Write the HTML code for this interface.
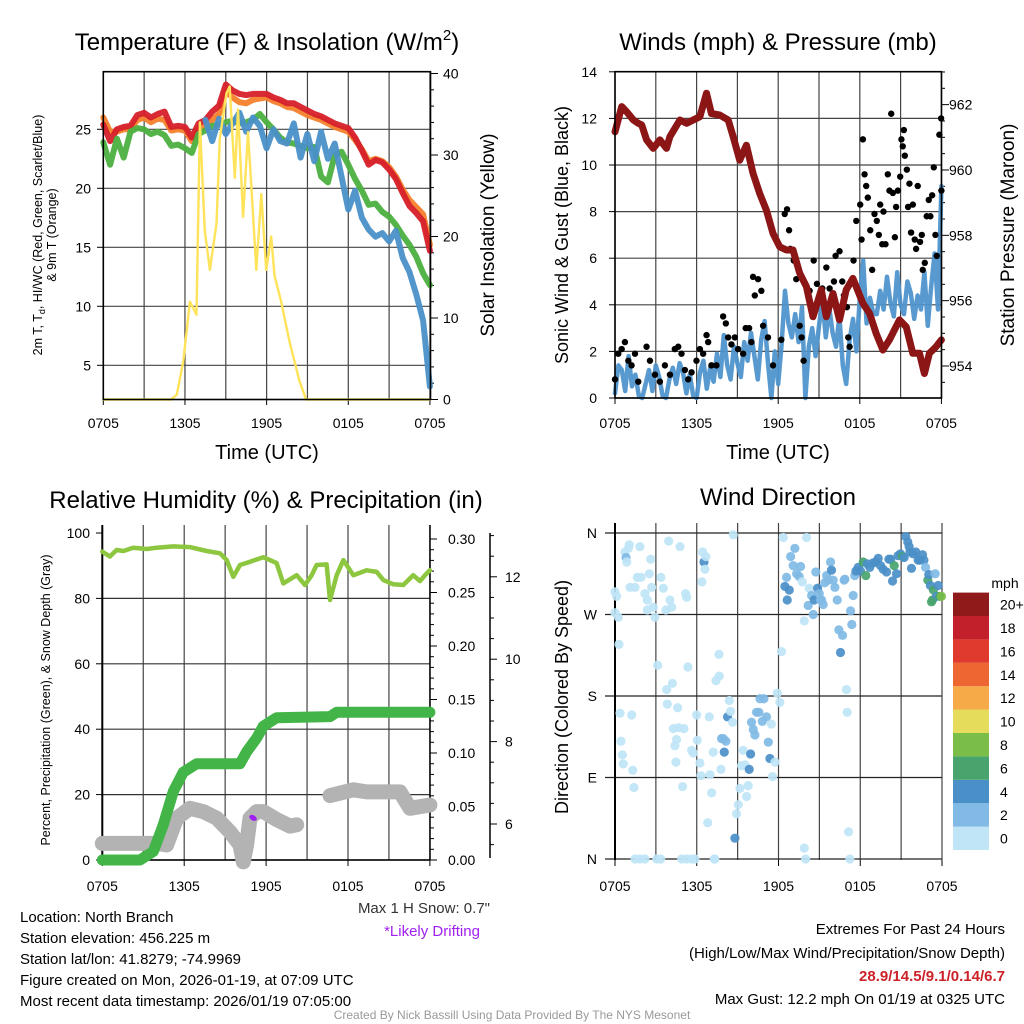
<!DOCTYPE html>
<html><head><meta charset="utf-8"><style>
html,body{margin:0;padding:0;background:#fff;}
svg{display:block;font-family:"Liberation Sans",sans-serif;}
</style></head><body>
<svg id="fig" width="1024" height="1024" viewBox="0 0 1024 1024" xmlns="http://www.w3.org/2000/svg">
<rect width="1024" height="1024" fill="#fff"/>
<g id="layer"></g>
<g id="texts" fill="#000">
<text x="267" y="50" font-size="24" text-anchor="middle">Temperature (F) &amp; Insolation (W/m<tspan font-size="15" dy="-10">2</tspan><tspan dy="10">)</tspan></text>
<text x="778" y="50" font-size="24" text-anchor="middle">Winds (mph) &amp; Pressure (mb)</text>
<text x="266" y="508" font-size="24" text-anchor="middle">Relative Humidity (%) &amp; Precipitation (in)</text>
<text x="778" y="505" font-size="24" text-anchor="middle">Wind Direction</text>
<text x="267" y="459" font-size="20" text-anchor="middle">Time (UTC)</text>
<text x="778" y="459" font-size="20" text-anchor="middle">Time (UTC)</text>
<text transform="translate(42,235) rotate(-90)" font-size="12.5" text-anchor="middle">2m T, T<tspan font-size="9" dy="3">d</tspan><tspan dy="-3">, HI/WC (Red, Green, Scarlet/Blue)</tspan></text>
<text transform="translate(56,235) rotate(-90)" font-size="12.5" text-anchor="middle">&amp; 9m T (Orange)</text>
<text transform="translate(494,235) rotate(-90)" font-size="19" text-anchor="middle">Solar Insolation (Yellow)</text>
<text transform="translate(568,235) rotate(-90)" font-size="18" text-anchor="middle">Sonic Wind &amp; Gust (Blue, Black)</text>
<text transform="translate(1014,235) rotate(-90)" font-size="19" text-anchor="middle">Station Pressure (Maroon)</text>
<text transform="translate(50,700) rotate(-90)" font-size="12.5" text-anchor="middle">Percent, Precipitation (Green), &amp; Snow Depth (Gray)</text>
<text transform="translate(568,697) rotate(-90)" font-size="18" text-anchor="middle">Direction (Colored By Speed)</text>
<text x="490" y="913" font-size="15" text-anchor="end" fill="#333">Max 1 H Snow: 0.7"</text>
<text x="432" y="936" font-size="15" text-anchor="middle" fill="#a020f0">*Likely Drifting</text>
<g font-size="15">
<text x="20" y="922">Location: North Branch</text>
<text x="20" y="943">Station elevation: 456.225 m</text>
<text x="20" y="964">Station lat/lon: 41.8279; -74.9969</text>
<text x="20" y="985">Figure created on Mon, 2026-01-19, at 07:09 UTC</text>
<text x="20" y="1006">Most recent data timestamp: 2026/01/19 07:05:00</text>
</g>
<g font-size="15" text-anchor="end">
<text x="1005" y="934">Extremes For Past 24 Hours</text>
<text x="1005" y="958">(High/Low/Max Wind/Precipitation/Snow Depth)</text>
<text x="1005" y="981" fill="#cc2229" font-weight="bold">28.9/14.5/9.1/0.14/6.7</text>
<text x="1005" y="1004">Max Gust: 12.2 mph On 01/19 at 0325 UTC</text>
</g>
<text x="512" y="1019" font-size="12" text-anchor="middle" fill="#999">Created By Nick Bassill Using Data Provided By The NYS Mesonet</text>
<text x="1005" y="588" font-size="14" text-anchor="middle">mph</text>
</g>
</svg>
<script>
// ---------- data ----------
const xTickLabels = ["0705","1305","1905","0105","0705"];
const tempTicks = [5,10,15,20,25];
const solarTicks = [0,10,20,30,40];
const windTicks = [0,2,4,6,8,10,12,14];
const pressTicks = [954,956,958,960,962];
const rhTicks = [0,20,40,60,80,100];
const precipTicks = ["0.00","0.05","0.10","0.15","0.20","0.25","0.30"];
const snowTicks = [6,8,10,12];
const dirTicks = [0,90,180,270,360];
const dirTickLabels = ["N","E","S","W","N"];
// temperature series, every 0.5 h
const tempRed = [25.4,24.0,25.0,25.2,25.3,26.2,26.4,26.0,26.3,26.5,25.2,25.3,25.2,24.3,25.5,25.8,26.5,27.0,28.8,28.3,28.0,27.9,28.0,28.0,28.0,27.7,27.5,27.2,27.2,26.9,26.6,26.3,26.1,25.8,25.5,25.3,25.1,24.3,23.2,22.0,22.4,22.2,21.6,20.8,19.6,18.5,17.9,17.2,14.7];
const tempOrange = [26.0,24.8,24.8,25.0,25.0,25.8,26.0,25.6,25.9,25.8,24.9,25.0,24.9,24.0,25.0,25.3,25.8,26.3,28.2,27.7,27.3,27.2,27.5,27.6,27.7,27.4,27.2,26.9,26.8,26.5,26.2,26.0,25.8,25.5,25.2,25.0,24.8,24.1,23.3,22.3,22.5,22.3,21.8,21.0,19.9,19.0,18.4,17.8,15.2];
const tempGreen = [23.9,22.0,24.2,22.6,24.8,25.1,25.0,24.6,24.8,24.5,23.6,23.7,23.4,23.0,24.6,24.9,25.3,25.4,25.6,25.7,25.5,25.6,25.8,26.3,25.6,25.0,24.3,23.9,23.8,23.6,23.4,23.5,21.0,20.5,22.8,23.1,22.0,20.8,19.8,18.6,18.7,18.0,17.6,16.9,16.0,15.2,14.2,12.8,11.8];
const tempBlue = [null,null,null,null,null,null,null,null,null,null,null,null,null,null,null,25.8,24.0,25.9,24.6,25.5,26.4,24.8,26.0,25.3,23.4,25.0,24.0,23.8,25.5,22.6,24.6,22.3,24.8,22.5,23.8,21.0,18.2,19.8,17.5,16.5,15.9,16.2,15.5,16.4,14.1,12.9,11.0,8.8,3.2];
const solarHours = [0,5.0,5.4,5.88,6.36,6.85,7.1,7.46,7.83,8.32,8.56,9.05,9.29,9.66,9.9,10.27,10.63,11.0,11.24,11.61,11.97,12.34,12.58,13.07,13.68,14.41,14.9,24];
const solarValues = [0,0,0.6,4.7,12,10.4,34,20.7,15.9,21.6,32,37.6,38.4,27.2,35.6,22.4,32.8,22.8,15.9,25.2,15.9,20,15.2,12,7.1,2.3,0,0];
// wind, every 0.25 h
const windSpeed = [0.2,1.4,1.2,0.3,1.8,0.5,1.0,0.1,0.0,0.6,1.2,0.3,1.4,0.9,0.1,0.0,0.8,1.3,0.6,1.5,1.1,0.2,1.0,0.1,0.0,1.1,1.6,0.4,1.3,0.7,1.9,0.9,2.7,1.4,0.8,2.2,1.5,0.9,2.4,1.6,2.8,1.8,0.8,2.5,3.3,1.5,0.0,2.0,0.6,2.3,4.6,3.2,2.6,3.6,2.4,3.9,0.0,2.2,3.0,1.8,3.1,4.2,2.6,3.9,2.8,2.2,3.5,1.4,0.6,2.5,3.4,2.0,4.3,5.9,3.2,4.3,3.6,3.6,4.6,3.8,5.2,4.1,3.5,5.4,4.0,3.6,5.0,4.5,3.4,4.4,3.8,5.4,3.1,4.8,6.2,3.8,9.1];
const gustHours = [0.0,0.24,0.49,0.73,0.98,1.22,1.47,1.71,2.32,2.57,2.94,3.30,3.67,4.04,4.40,4.65,4.89,5.14,5.38,5.63,5.99,6.24,6.48,6.73,6.85,7.09,7.46,7.95,8.15,8.32,8.56,8.81,9.05,9.42,9.61,9.86,10.03,10.15,10.28,10.52,10.76,10.89,11.25,11.62,12.23,12.48,12.65,12.80,12.89,13.14,13.33,13.58,13.72,13.87,14.31,14.61,14.85,15.24,15.54,15.78,16.10,16.22,16.51,16.71,16.83,17.05,17.15,17.25,17.44,17.54,17.74,18.03,18.13,18.23,18.35,18.47,18.59,18.77,18.91,19.08,19.25,19.40,19.50,19.65,19.74,19.89,20.06,20.18,20.31,20.43,20.58,20.67,20.80,20.97,21.06,21.16,21.24,21.31,21.46,21.55,21.65,21.77,21.90,22.04,22.14,22.26,22.43,22.56,22.63,22.78,22.92,23.07,23.19,23.32,23.44,23.56,23.66,23.85,23.98,24.0];
const gustValues = [0.8,1.9,2.1,2.4,1.6,1.4,1.9,0.7,2.2,1.6,1.0,0.7,1.4,1.0,2.1,2.2,1.9,1.2,0.8,1.1,1.6,2.1,1.9,2.7,2.4,1.4,1.4,3.5,3.2,2.6,2.3,2.6,2.1,1.9,3.0,3.0,2.4,5.2,4.4,5.1,4.6,3.1,2.6,1.4,2.5,7.9,8.1,7.2,6.4,5.9,5.1,3.1,2.6,1.6,4.6,5.9,4.9,4.7,5.6,4.7,5.0,6.1,6.3,5.0,4.4,3.9,2.6,2.2,5.0,5.9,7.6,8.3,6.8,11.1,9.6,9.1,8.6,7.2,5.5,7.9,7.6,7.0,8.3,6.6,8.0,6.6,9.6,8.9,12.2,8.8,6.9,8.2,8.9,9.5,11.1,10.8,11.5,10.4,9.8,8.2,9.2,7.1,8.3,6.8,6.4,9.1,6.7,7.0,5.5,5.8,7.8,8.5,7.8,8.7,9.9,7.0,6.1,11.3,12.0,8.9];
const pressHours = [0,0.49,0.86,1.35,1.71,1.96,2.32,2.81,3.3,3.79,4.04,4.77,5.26,6.24,6.73,7.09,7.71,8.32,8.69,9.17,9.66,10.15,10.64,11.13,11.62,12.11,12.6,13.09,13.58,14.07,14.56,15.17,15.54,16.03,16.51,17.0,17.49,18.23,18.72,19.2,19.7,20.18,20.92,21.41,21.9,22.39,22.75,23.12,23.37,23.61,24];
const pressValues = [961.17,961.94,961.78,961.53,961.43,961.38,960.92,960.66,960.92,960.66,961.02,961.53,961.43,961.63,962.35,961.73,961.68,961.53,961.02,960.30,960.76,959.90,959.28,958.77,958.06,957.65,957.55,957.55,956.84,956.43,955.51,956.33,955.51,956.22,955.41,956.33,956.68,955.92,955.61,955.0,954.49,954.8,955.41,955.2,954.39,954.39,953.77,954.39,954.49,954.59,954.8];
// RH / precip / snow
const rhHours = [0,0.56,1.05,1.54,2.27,3.25,3.98,5.2,6.42,7.64,8.62,9.11,9.6,10.09,10.82,11.79,12.28,12.77,13.26,14.24,14.85,15.34,15.7,16.43,16.68,17.17,17.66,18.39,19.37,20.1,20.59,21.32,22.05,22.78,23.27,23.76,24];
const rhValues = [94.3,92.8,94.8,94.5,95.5,95.1,95.5,95.9,95.7,94.5,93.8,91.7,86.6,90.2,91.2,92.6,91.7,90.8,84.6,87.1,84.1,87.1,90.2,90.4,79.5,87.1,91.7,87.1,88.6,88.1,85.6,84.3,84.1,87.1,85.3,87.6,88.6];
const precipHours = [0,2.76,3.74,4.47,5.2,5.93,6.91,10.09,10.57,11.31,11.79,12.77,16.68,17.17,24];
const precipValues = [0,0,0.008,0.033,0.064,0.082,0.09,0.09,0.101,0.114,0.125,0.133,0.134,0.138,0.138];
const snowHours = [0,3.98,4.71,5.45,6.42,7.4,8.38,9.35,10.09,10.33,10.57,10.82,11.31,11.79,12.77,13.75,14.24,15.5,16.68,18.39,19.37,21.81,22.54,24];
const snowValues = [5.53,5.53,5.49,6.14,6.38,6.3,6.14,5.81,5.49,5.08,5.49,6.14,6.3,6.3,6.11,5.95,5.98,null,6.69,6.83,6.78,6.78,6.38,6.46];
const driftHours = [11.04];
const driftValues = [6.15];
// wind direction
const dirHours = [0.0,0.12,0.0,0.24,0.29,0.37,0.44,0.54,0.61,0.73,0.81,0.86,0.98,1.05,1.1,1.22,1.30,1.39,1.47,1.64,1.83,1.91,2.2,2.37,2.37,2.52,2.62,2.69,2.81,2.93,3.13,3.37,3.55,3.74,3.79,3.84,3.94,4.03,4.16,4.21,4.28,4.40,4.47,4.52,4.6,4.67,4.77,4.96,5.06,5.18,5.26,5.35,5.62,5.75,5.99,6.04,6.23,6.31,6.38,6.43,6.53,6.6,6.67,6.8,6.92,6.97,7.09,7.21,7.29,7.41,7.63,7.65,7.78,7.82,7.95,8.02,8.14,8.26,8.39,8.48,8.63,8.68,8.8,8.92,9.05,9.17,9.29,9.41,9.54,9.66,9.78,9.85,9.95,10.02,10.15,10.27,10.39,10.56,10.64,10.81,10.93,11.12,11.25,11.37,11.47,11.56,11.74,11.91,12.1,12.22,12.35,12.47,12.59,12.64,12.79,12.89,13.08,13.2,13.33,13.52,13.62,13.74,13.89,14.06,14.18,14.25,14.43,14.55,14.62,14.74,14.87,14.99,15.09,15.16,15.28,15.4,15.53,15.65,15.82,15.89,16.01,16.14,16.31,16.43,16.55,16.7,16.82,16.87,16.99,17.04,17.14,17.29,17.38,17.48,17.6,17.68,17.85,18.02,18.22,18.41,18.51,18.7,18.95,19.14,19.32,19.49,19.68,19.93,20.1,20.24,20.37,20.49,20.66,20.78,20.95,21.1,21.22,21.34,21.49,21.59,21.64,21.76,21.88,22.08,22.25,22.37,22.57,22.67,22.79,22.96,23.03,23.15,23.3,23.37,23.5,23.59,23.72,23.84,23.96,23.23,13.89,13.99,17.24,1.47,1.83,2.2,3.06,3.35,4.89,5.26,5.62,5.87,7.33];
const dirDegrees = [295,290,272,267,237,161,130,115,105,339,333,328,343,347,300,159,98,79,300,311,345,311,293,286,275,315,331,300,278,267,214,311,299,275,187,171,351,286,278,194,144,125,107,132,167,145,345,80,144,293,289,212,120,117,159,131,106,92,306,339,328,320,334,40,157,93,73,118,0,197,226,202,99,133,133,118,130,157,175,163,151,358,23,50,60,78,103,120,104,69,81,99,116,151,143,137,162,162,177,152,177,157,129,111,149,91,107,183,173,229,355,301,311,286,297,334,324,343,315,312,323,306,263,355,280,299,291,270,286,317,299,293,286,286,281,305,313,308,328,319,308,300,286,253,228,247,308,309,187,162,30,274,259,291,313,318,322,318,328,313,326,322,327,328,332,324,320,317,331,331,307,324,315,335,337,334,333,356,350,345,339,321,337,339,330,330,336,330,322,308,314,302,286,297,315,290,302,290,290,284,12,0,0,0,0,0,0,0,0,0,0,0,0];
const dirSpeeds = [
1,1,1,1,1,1,1,1,1,1,
3,
1,1,1,1,1,1,1,1,1,1, 1,1,1,1,1,1,1,1,1,1, 1,1,1,1,1,1,1,1,1,1, 1,1,1,1,1,1,1,1,1,1, 1,1,1,1,1,1,1,1,1,
5,
1,1,1,1,1,1,1,1,1,1,1,1,
3,3,5,3,5,
1,1,1,1,
5,
1,1,1,1,1,1,1,1,
5,5,
3,3,3,3,3,3,3,3,3,3,
5,
1,1,1,1,1,1,1,
5,3,5,5,
3,3,3,3,3,3,
1,1,1,
3,1,3,3,5,3,5,
3,3,3,3,3,3,3,3,
5,
3,3,3,3,
5,
3,3,3,
1,1,1,
3,3,3,3,
5,5,5,
7,7,
5,
5,5,5,5,5,5,5,5,5,5,
7,
5,5,5,
7,
5,5,5,5,5,5,5,5,5,5,5,5,
3,7,5,5,7,7,3,5,5,7,9,7,
1,1,1,1,1,1,1,1,1,1,1,1,1];
const cbLabels = ["0","2","4","6","8","10","12","14","16","18","20+"];
const cbColors = ["#bfe5f7","#80bae5","#4b8fc8","#48a46c","#7abd48","#e4dc5a","#f6aa48","#ee6631","#e03a2e","#c2202a","#8e1a1a"];

// ---------- scales ----------
const x1 = h => 103.3 + h*13.61, yT = t => 129.3 - (t-25)*11.8, yS = v => 399.5 - v*8.15;
const x2 = h => 615 + h*13.6, yW = v => 398 - v*23.3, yP = p => 366 - (p-954)*32.67;
const x3 = h => 102.3 + h*13.65, yRH = r => 860 - r*3.27, yPr = p => 860 - p*1070, ySn = s => 824 - (s-6)*41.2;
const x4 = h => 615 + h*13.625, yD = d => 859 - d*(326/360);

const NS = "http://www.w3.org/2000/svg";
const layer = document.getElementById('layer');
function el(tag, attrs){ const e = document.createElementNS(NS, tag); for (const k in attrs) e.setAttribute(k, attrs[k]); layer.appendChild(e); return e; }
function pathFrom(hs, vs, fx, fy){ let d = "", pen = false; for (let i=0;i<vs.length;i++){ if (vs[i]===null){pen=false;continue;} d += (pen?"L":"M") + fx(hs[i]).toFixed(1) + "," + fy(vs[i]).toFixed(1); pen = true; } return d; }
const idx = (n, span) => Array.from({length:n}, (_,i) => i*span/(n-1));

// ---------- grids & axes ----------
function lineEl(x1_,y1_,x2_,y2_,stroke,w,name){ const e = el('line',{x1:x1_,y1:y1_,x2:x2_,y2:y2_,stroke:stroke,'stroke-width':w});


return e; }
function txt(x,y,s,anchor,size,name){ const e = el('text',{x:x,y:y,'font-size':size,'text-anchor':anchor}); e.textContent = s;


return e; }
const hourGrid = [0,3,6,9,12,15,18,21,24];
// panel 1
hourGrid.forEach(h => lineEl(x1(h),71.7,x1(h),399.5,'#444',1.2,'temp-x-grid'));
tempTicks.forEach(t => { lineEl(103.3,yT(t),430.5,yT(t),'#444',1.2,'temp-y-grid'); lineEl(97,yT(t),103.3,yT(t),'#000',1,'temp-y-tick'); txt(91,yT(t)+5,String(t),'end',14,'temp-y-tick-label'); });
for (let v=0; v<=40; v+=2){ lineEl(430.5,yS(v),v%10===0?438:434,yS(v),'#000',1,'solar-y-tick'); }
solarTicks.forEach(v => txt(443,yS(v)+5,String(v),'start',14,'solar-y-tick-label'));
xTickLabels.forEach((s,i) => { lineEl(x1(i*6),399.5,x1(i*6),405,'#000',1,'temp-x-tick'); txt(x1(i*6),428,s,'middle',14,'temp-x-tick-label'); });
// panel 2
hourGrid.forEach(h => lineEl(x2(h),71.7,x2(h),398,'#444',1.2,'wind-x-grid'));
windTicks.forEach(v => { lineEl(615,yW(v),941.5,yW(v),'#444',1.2,'wind-y-grid'); lineEl(609,yW(v),615,yW(v),'#000',1,'wind-y-tick'); txt(597,yW(v)+5,String(v),'end',14,'wind-y-tick-label'); });
for (let p=953.5; p<=963; p+=0.5){ lineEl(941.5,yP(p),Math.abs(p-Math.round(p/2)*2)<0.01?949:945,yP(p),'#000',1,'pressure-y-tick'); }
pressTicks.forEach(p => txt(949,yP(p)+5,String(p),'start',14,'pressure-y-tick-label'));
xTickLabels.forEach((s,i) => { lineEl(x2(i*6),398,x2(i*6),404,'#000',1,'wind-x-tick'); txt(x2(i*6),428,s,'middle',14,'wind-x-tick-label'); });
// panel 3
hourGrid.forEach(h => lineEl(x3(h),525,x3(h),860,'#444',1.2,'rh-x-grid'));
rhTicks.forEach(v => { if (v<100) lineEl(102.3,yRH(v),430,yRH(v),'#333',1.2,'rh-y-grid'); lineEl(96,yRH(v),102.3,yRH(v),'#000',1,'rh-y-tick'); txt(90,yRH(v)+5,String(v),'end',14,'rh-y-tick-label'); });
for (let k=0;k<=30;k++){ lineEl(430,yPr(k/100),k%5===0?437:434,yPr(k/100),'#000',1,'precip-y-tick'); }
precipTicks.forEach(s => txt(448,yPr(parseFloat(s))+5,s,'start',14,'precip-y-tick-label'));
lineEl(490,533,490,858,'#000',1.5,'snow-axis-line');
for (let s=5.5; s<=13; s+=0.5){ if (ySn(s)>533 && ySn(s)<858) lineEl(490,ySn(s),Number.isInteger(s)&&s%2===0?497:494,ySn(s),'#000',1,'snow-y-tick'); }
snowTicks.forEach(s => txt(505,ySn(s)+5,String(s),'start',14,'snow-y-tick-label'));
xTickLabels.forEach((s,i) => { lineEl(x3(i*6),860,x3(i*6),866,'#000',1,'rh-x-tick'); txt(x3(i*6),891,s,'middle',14,'rh-x-tick-label'); });
lineEl(102.3,525,102.3,860,'#000',2,'rh-left-axis');
lineEl(102.3,860,430,860,'#000',1.5,'rh-bottom-axis');
lineEl(430,525,430,860,'#000',1.5,'rh-right-axis');
// panel 4
hourGrid.forEach(h => lineEl(x4(h),523,x4(h),860,'#444',1.2,'direction-x-grid'));
dirTicks.forEach((d,i) => { lineEl(605,yD(d),942,yD(d),'#222',1.2,'direction-y-grid'); txt(597,yD(d)+5,dirTickLabels[i],'end',14,'direction-y-tick-label'); });
lineEl(615,523,615,860,'#000',2,'direction-left-axis');
xTickLabels.forEach((s,i) => { lineEl(x4(i*6),860,x4(i*6),866,'#000',1,'direction-x-tick'); txt(x4(i*6),891,s,'middle',14,'direction-x-tick-label'); });

// ---------- series panel 1 ----------
const h49 = idx(49,24);
function series(d, color, w, name, op){ const e = el('path',{d:d,fill:'none',stroke:color,'stroke-width':w,'stroke-linejoin':'round','stroke-linecap':'round',opacity:op||1});


return e; }
series(pathFrom(h49,tempOrange,x1,yT),'#f4812c',6,'orange-9m-temp-line',0.95);
series(pathFrom(h49,tempRed,x1,yT),'#d6202a',6,'red-2m-temp-line',0.95);
series(pathFrom(h49,tempGreen,x1,yT),'#4cb03f',6,'green-dewpoint-line',0.95);
series(pathFrom(h49,tempBlue,x1,yT),'#4a90c8',6,'blue-windchill-line',0.95);
series(pathFrom(solarHours,solarValues,x1,yS),'#ffe35a',2.4,'yellow-insolation-line',1);
const f1 = el('rect',{x:103.3,y:71.7,width:327.2,height:327.8,fill:'none',stroke:'#000','stroke-width':1.6});



// ---------- series panel 2 ----------
series(pathFrom(idx(windSpeed.length,24),windSpeed,x2,yW),'#4f95cd',4.5,'sonic-wind-line',0.95);
gustHours.forEach((h,i) => { const c = el('circle',{cx:x2(h),cy:yW(gustValues[i]),r:3.2,fill:'#000'});

 });
series(pathFrom(pressHours,pressValues,x2,yP),'#8c1515',7,'pressure-line',1);
const f2 = el('rect',{x:615,y:71.7,width:326.5,height:326.3,fill:'none',stroke:'#000','stroke-width':1.6});



// ---------- series panel 3 ----------
series(pathFrom(rhHours,rhValues,x3,yRH),'#8dc63f',4.5,'relative-humidity-line',1);
series(pathFrom(snowHours,snowValues,x3,ySn),'#b3b3b3',15,'snow-depth-line',1);
series(pathFrom(precipHours,precipValues,x3,yPr),'#43b548',11,'precipitation-line',1);
driftHours.forEach((h,i) => { const c = el('ellipse',{cx:x3(h),cy:ySn(driftValues[i]),rx:4,ry:2.6,fill:'#a020f0',transform:`rotate(30 ${x3(h)} ${ySn(driftValues[i])})`});

 });

// ---------- series panel 4 ----------
const speedColor = s => cbColors[Math.min(10, Math.floor((s===undefined?1:s)/2))];
dirHours.forEach((h,i) => { const c = el('circle',{cx:x4(h),cy:yD(dirDegrees[i]),r:4.6,fill:speedColor(dirSpeeds[i]),opacity:0.92});

 });
// colorbar
cbColors.forEach((col,i) => { const y = 850 - (i+1)*23.4;
const r = el('rect',{x:953,y:y,width:36,height:23.4,fill:col});


txt(1000,y+17,cbLabels[i],'start',14,'colorbar-label'); });
</script>
</body></html>
